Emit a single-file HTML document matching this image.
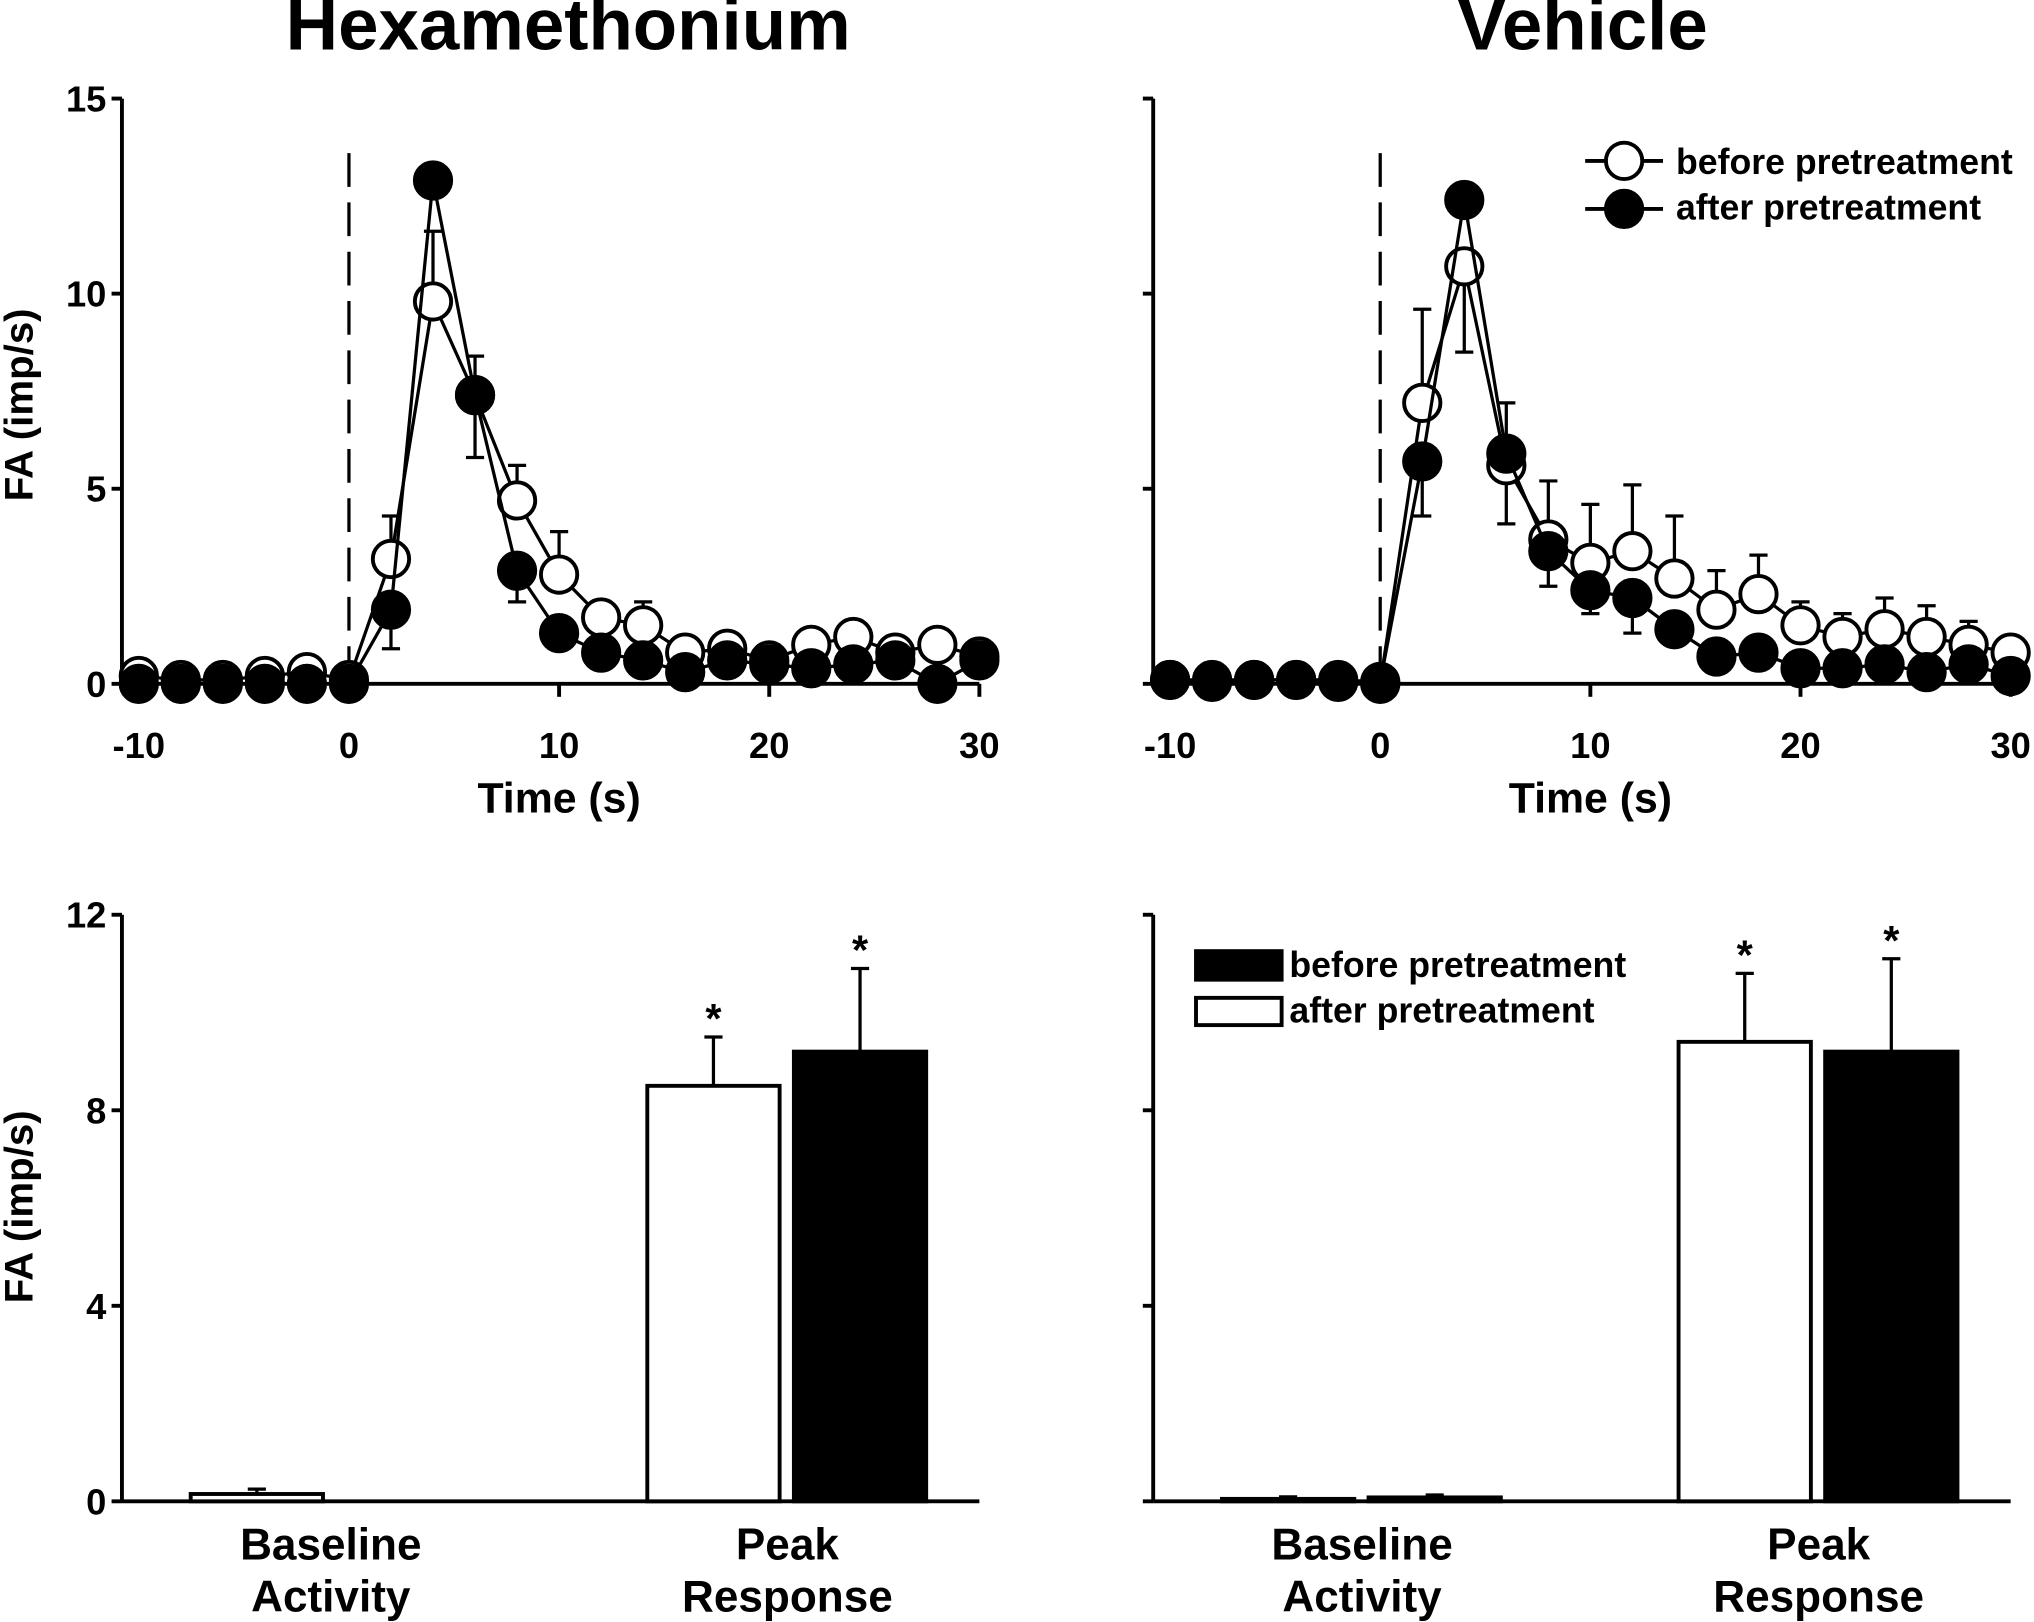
<!DOCTYPE html>
<html><head><meta charset="utf-8"><style>
html,body{margin:0;padding:0;background:#fff}
svg{display:block}
text{font-family:"Liberation Sans",Arial,sans-serif;font-weight:bold;fill:#000}
</style></head><body>
<svg id="fig" width="2034" height="1622" viewBox="0 0 1568 1250" preserveAspectRatio="none" xmlns="http://www.w3.org/2000/svg">
<text x="438" y="38" font-size="56" text-anchor="middle">Hexamethonium</text>
<text x="1220" y="38" font-size="56" text-anchor="middle">Vehicle</text>
<text transform="translate(25,312) rotate(-90)" font-size="31" text-anchor="middle">FA (imp/s)</text>
<text transform="translate(25,930) rotate(-90)" font-size="31" text-anchor="middle">FA (imp/s)</text>
<g>
<line x1="1222" y1="124" x2="1282" y2="124" stroke="#000" stroke-width="3"/><circle cx="1252" cy="124" r="14" fill="#fff" stroke="#000" stroke-width="3"/>
<text x="1292" y="134" font-size="27.5">before pretreatment</text>
<line x1="1222" y1="161" x2="1282" y2="161" stroke="#000" stroke-width="3"/><circle cx="1252" cy="161" r="14" fill="#000" stroke="#000" stroke-width="3"/>
<text x="1292" y="169" font-size="27.5">after pretreatment</text>
</g>
<g>
<rect x="922" y="733" width="66" height="22" fill="#000" stroke="#000" stroke-width="3"/>
<text x="994" y="753" font-size="27.5">before pretreatment</text>
<rect x="922" y="769" width="66" height="21" fill="#fff" stroke="#000" stroke-width="3"/>
<text x="994" y="788" font-size="27.5">after pretreatment</text>
</g>
</svg>
<script>
const times=[-10,-8,-6,-4,-2,0,2,4,6,8,10,12,14,16,18,20,22,24,26,28,30];
const hexBefore=[0.2,0.1,0.1,0.2,0.3,0.1,3.2,9.8,7.4,4.7,2.8,1.7,1.5,0.8,0.9,0.6,1.0,1.2,0.8,1.0,0.7];
const hexBeforeErr=[0,0,0,0,0,0,1.1,1.8,-1.6,0.9,1.1,0.3,0.6,0.2,0.2,0.2,0.2,0.2,0.2,0.2,0.2];
const hexAfter=[0,0,0,0,0,0,1.9,12.9,7.4,2.9,1.3,0.8,0.6,0.3,0.6,0.5,0.4,0.5,0.6,0.0,0.6];
const hexAfterErr=[0,0,0,0,0,0,-1.0,0,1.0,-0.8,0,0,0,0,0,0,0,0,0,0,0];
const vehBefore=[0.1,0.05,0.1,0.1,0.05,0,7.2,10.7,5.6,3.7,3.1,3.4,2.7,1.9,2.3,1.5,1.2,1.4,1.2,1.0,0.8];
const vehBeforeErr=[0,0,0,0,0,0,2.4,-2.2,-1.5,1.5,1.5,1.7,1.6,1.0,1.0,0.6,0.6,0.8,0.8,0.6,0];
const vehAfter=[0.1,0.1,0.1,0.1,0.1,0.05,5.7,12.4,5.9,3.4,2.4,2.2,1.4,0.7,0.8,0.4,0.4,0.5,0.3,0.5,0.2];
const vehAfterErr=[0,0,0,0,0,0,-1.4,0,1.3,-0.9,-0.6,-0.9,0,0,0,0,0,0,0,0,0];
const xTicks=[-10,0,10,20,30];
const yTicksTop=[0,5,10,15];
const barCats=["Baseline Activity","Peak Response"];
const hexBars=[0.15,0,8.5,9.2];
const hexBarErr=[0.1,0,1.0,1.7];
const vehBars=[0.05,0.08,9.4,9.2];
const vehBarErr=[0.04,0.05,1.4,1.9];
const yTicksBot=[0,4,8,12];

const NS="http://www.w3.org/2000/svg";
const svg=document.getElementById('fig');
function mk(t,a,p){const e=document.createElementNS(NS,t);for(const k in a)e.setAttribute(k,a[k]);(p||svg).appendChild(e);return e;}

function linePanel(name,x0,yLabels,before,bErr,after,aErr){
  const g=mk('g',{});
  
  
  const X=t=>x0+(t+10)*16.2, Y=v=>527-v*30.07;
  const ax=x0-13;
  mk('line',{x1:ax,y1:76,x2:ax,y2:527,stroke:'#000','stroke-width':3},g);
  mk('line',{x1:ax,y1:527,x2:X(30),y2:527,stroke:'#000','stroke-width':3},g);
  yTicksTop.forEach(v=>{
    mk('line',{x1:ax-8,y1:Y(v),x2:ax,y2:Y(v),stroke:'#000','stroke-width':3},g);
    if(yLabels){const t=mk('text',{x:ax-12,y:Y(v)+10,'font-size':28,'text-anchor':'end'},g);t.textContent=v;
      }
  });
  xTicks.forEach(v=>{
    mk('line',{x1:X(v),y1:527,x2:X(v),y2:537,stroke:'#000','stroke-width':3},g);
    const t=mk('text',{x:X(v),y:584,'font-size':28,'text-anchor':'middle'},g);t.textContent=v;
    
  });
  const tt=mk('text',{x:X(10),y:626,'font-size':33,'text-anchor':'middle'},g);tt.textContent='Time (s)';
  
  mk('line',{x1:X(0),y1:118,x2:X(0),y2:527,stroke:'#000','stroke-width':2.5,'stroke-dasharray':'26,12'},g);
  [[before,bErr,'#fff','series-before'],[after,aErr,'#000','series-after']].forEach(([d,e,f,n])=>{
    const s=mk('g',{},g);
    
    
    d.forEach((v,i)=>{if(e[i]){const y2=Y(v+e[i]);
      mk('line',{x1:X(times[i]),y1:Y(v),x2:X(times[i]),y2:y2,stroke:'#000','stroke-width':2.5},s);
      mk('line',{x1:X(times[i])-7,y1:y2,x2:X(times[i])+7,y2:y2,stroke:'#000','stroke-width':2.5},s);}});
    mk('polyline',{points:d.map((v,i)=>X(times[i])+','+Y(v)).join(' '),fill:'none',stroke:'#000','stroke-width':2.5},s);
    d.forEach((v,i)=>{const c=mk('circle',{cx:X(times[i]),cy:Y(v),r:14,fill:f,stroke:'#000','stroke-width':3},s);
      });
  });
}
linePanel('panel-hexamethonium-time',107,true,hexBefore,hexBeforeErr,hexAfter,hexAfterErr);
linePanel('panel-vehicle-time',902,false,vehBefore,vehBeforeErr,vehAfter,vehAfterErr);

function barPanel(name,ax,right,cats,vals,errs,labels){
  const g=mk('g',{});
  
  
  const Y=v=>1157-v*37.67;
  mk('line',{x1:ax,y1:705,x2:ax,y2:1157,stroke:'#000','stroke-width':3},g);
  mk('line',{x1:ax,y1:1157,x2:right,y2:1157,stroke:'#000','stroke-width':3},g);
  yTicksBot.forEach(v=>{
    mk('line',{x1:ax-8,y1:Y(v),x2:ax,y2:Y(v),stroke:'#000','stroke-width':3},g);
    if(labels){const t=mk('text',{x:ax-12,y:Y(v)+10,'font-size':28,'text-anchor':'end'},g);t.textContent=v;
      }
  });
  cats.forEach((c,ci)=>{
    const cx=ci===0?ax+161:ax+513;
    c.split(' ').forEach((word,wi)=>{const t=mk('text',{x:cx,y:1202+wi*40,'font-size':34,'text-anchor':'middle'},g);t.textContent=word;
      });
    [0,1].forEach(k=>{
      const idx=ci*2+k, v=vals[idx], e=errs[idx];
      const x=cx-108+k*113, bw=102;
      const fill=k===0?'#fff':'#000';
      if(e){mk('line',{x1:x+bw/2,y1:Y(v),x2:x+bw/2,y2:Y(v+e),stroke:'#000','stroke-width':2.5},g);
        mk('line',{x1:x+bw/2-7,y1:Y(v+e),x2:x+bw/2+7,y2:Y(v+e),stroke:'#000','stroke-width':2.5},g);}
      const r=mk('rect',{x:x,y:Y(v),width:bw,height:Math.max(0,1157-Y(v)),fill:fill,stroke:'#000','stroke-width':3},g);
      
      if(ci===1){const s=mk('text',{x:x+bw/2,y:Y(v+e)-3,'font-size':32,'text-anchor':'middle'},g);s.textContent='*';
        }
    });
  });
}
barPanel('panel-hexamethonium-bars',94,755,barCats,hexBars,hexBarErr,true);
barPanel('panel-vehicle-bars',889,1550,barCats,vehBars,vehBarErr,false);
</script>
</body></html>
